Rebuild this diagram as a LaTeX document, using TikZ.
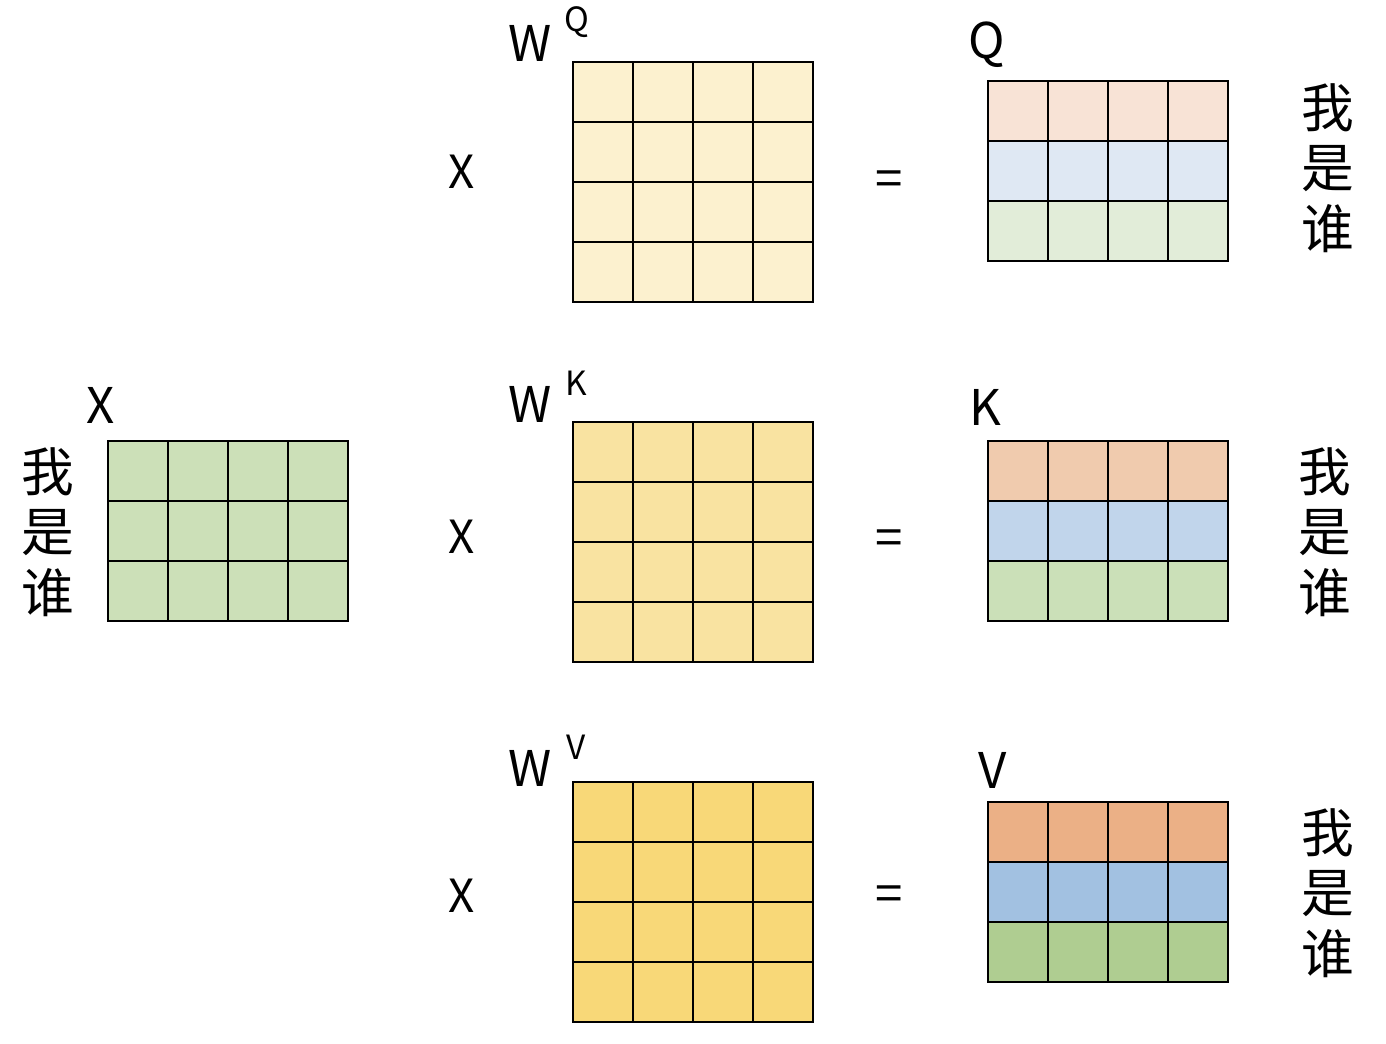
\documentclass[tikz,border=0pt]{standalone}
\usepackage{fontspec}
\setmainfont{Noto Sans CJK SC}

% Couleurs des matrices
\definecolor{wq}{HTML}{FCF1CF}
\definecolor{wk}{HTML}{F9E3A1}
\definecolor{wv}{HTML}{F8D878}
\definecolor{xg}{HTML}{CCE0B8}
\definecolor{qo}{HTML}{F8E3D6}
\definecolor{qb}{HTML}{DFE8F3}
\definecolor{qg}{HTML}{E2EDD9}
\definecolor{ko}{HTML}{F0CBAE}
\definecolor{kb}{HTML}{C1D5EB}
\definecolor{kg}{HTML}{CBE0B8}
\definecolor{vo}{HTML}{EBB086}
\definecolor{vb}{HTML}{A2C1E1}
\definecolor{vg}{HTML}{AFCD91}

% Cases d'une matrice : x, y (coin haut gauche), nombre de lignes
\newcommand{\grille}[3]{%
  \foreach \i in {1,2,3} \draw (#1+\i*60,#2) -- (#1+\i*60,#2+#3*60);
  \foreach \j in {1,...,#3} \draw (#1,#2+\j*60) -- (#1+240,#2+\j*60);
  \draw (#1,#2) rectangle (#1+240,#2+#3*60);}

% Trois lignes colorees : x, y, couleurs
\newcommand{\lignes}[5]{%
  \fill[#3] (#1,#2) rectangle (#1+240,#2+60);
  \fill[#4] (#1,#2+60) rectangle (#1+240,#2+120);
  \fill[#5] (#1,#2+120) rectangle (#1+240,#2+180);
  \grille{#1}{#2}{3}}

\begin{document}
\begin{tikzpicture}[x=0.02cm, y=-0.02cm, line width=1.15pt,
  lab/.style={font=\fontsize{28}{30}\selectfont, inner sep=0pt},
  fois/.style={font=\fontsize{26}{28}\selectfont, inner sep=0pt},
  sup/.style={font=\fontsize{19}{21}\selectfont, inner sep=0pt},
  han/.style={font=\fontsize{30}{34.5}\selectfont, inner sep=0pt, align=center}]
\useasboundingbox (0,0) rectangle (1386,1044);

% Matrice d'entree X
\fill[xg] (108,441) rectangle (348,621);
\grille{108}{441}{3}
\node[lab] (xlab) at (101,405) {X};
\node[han] (xmots) at (48,532) {我\\是\\谁};

% Poids W
\fill[wq] (573,62) rectangle (813,302);
\grille{573}{62}{4}
\fill[wk] (573,422) rectangle (813,662);
\grille{573}{422}{4}
\fill[wv] (573,782) rectangle (813,1022);
\grille{573}{782}{4}

\node[lab] (wq) at (530,43) {W};
\node[sup] (wqs) at (577,22) {Q};
\node[lab] (wk) at (530,404) {W};
\node[sup] (wks) at (576,383) {K};
\node[lab] (wv) at (530,768) {W};
\node[sup] (wvs) at (576,747) {V};

% Signes
\node[fois] (foisq) at (462,172) {X};
\node[fois] (foisk) at (462,537) {X};
\node[fois] (foisv) at (462,896) {X};
\node[lab] (egq) at (889,184) {=};
\node[lab] (egk) at (889,543) {=};
\node[lab] (egv) at (889,899) {=};

% Resultats Q, K, V
\lignes{988}{81}{qo}{qb}{qg}
\lignes{988}{441}{ko}{kb}{kg}
\lignes{988}{802}{vo}{vb}{vg}

\node[lab] (qlab) at (987,45) {Q};
\node[lab] (klab) at (985,407) {K};
\node[lab] (vlab) at (993,770) {V};

\node[han] (qmots) at (1328,168) {我\\是\\谁};
\node[han] (kmots) at (1325,532) {我\\是\\谁};
\node[han] (vmots) at (1328,893) {我\\是\\谁};
\end{tikzpicture}
\end{document}
